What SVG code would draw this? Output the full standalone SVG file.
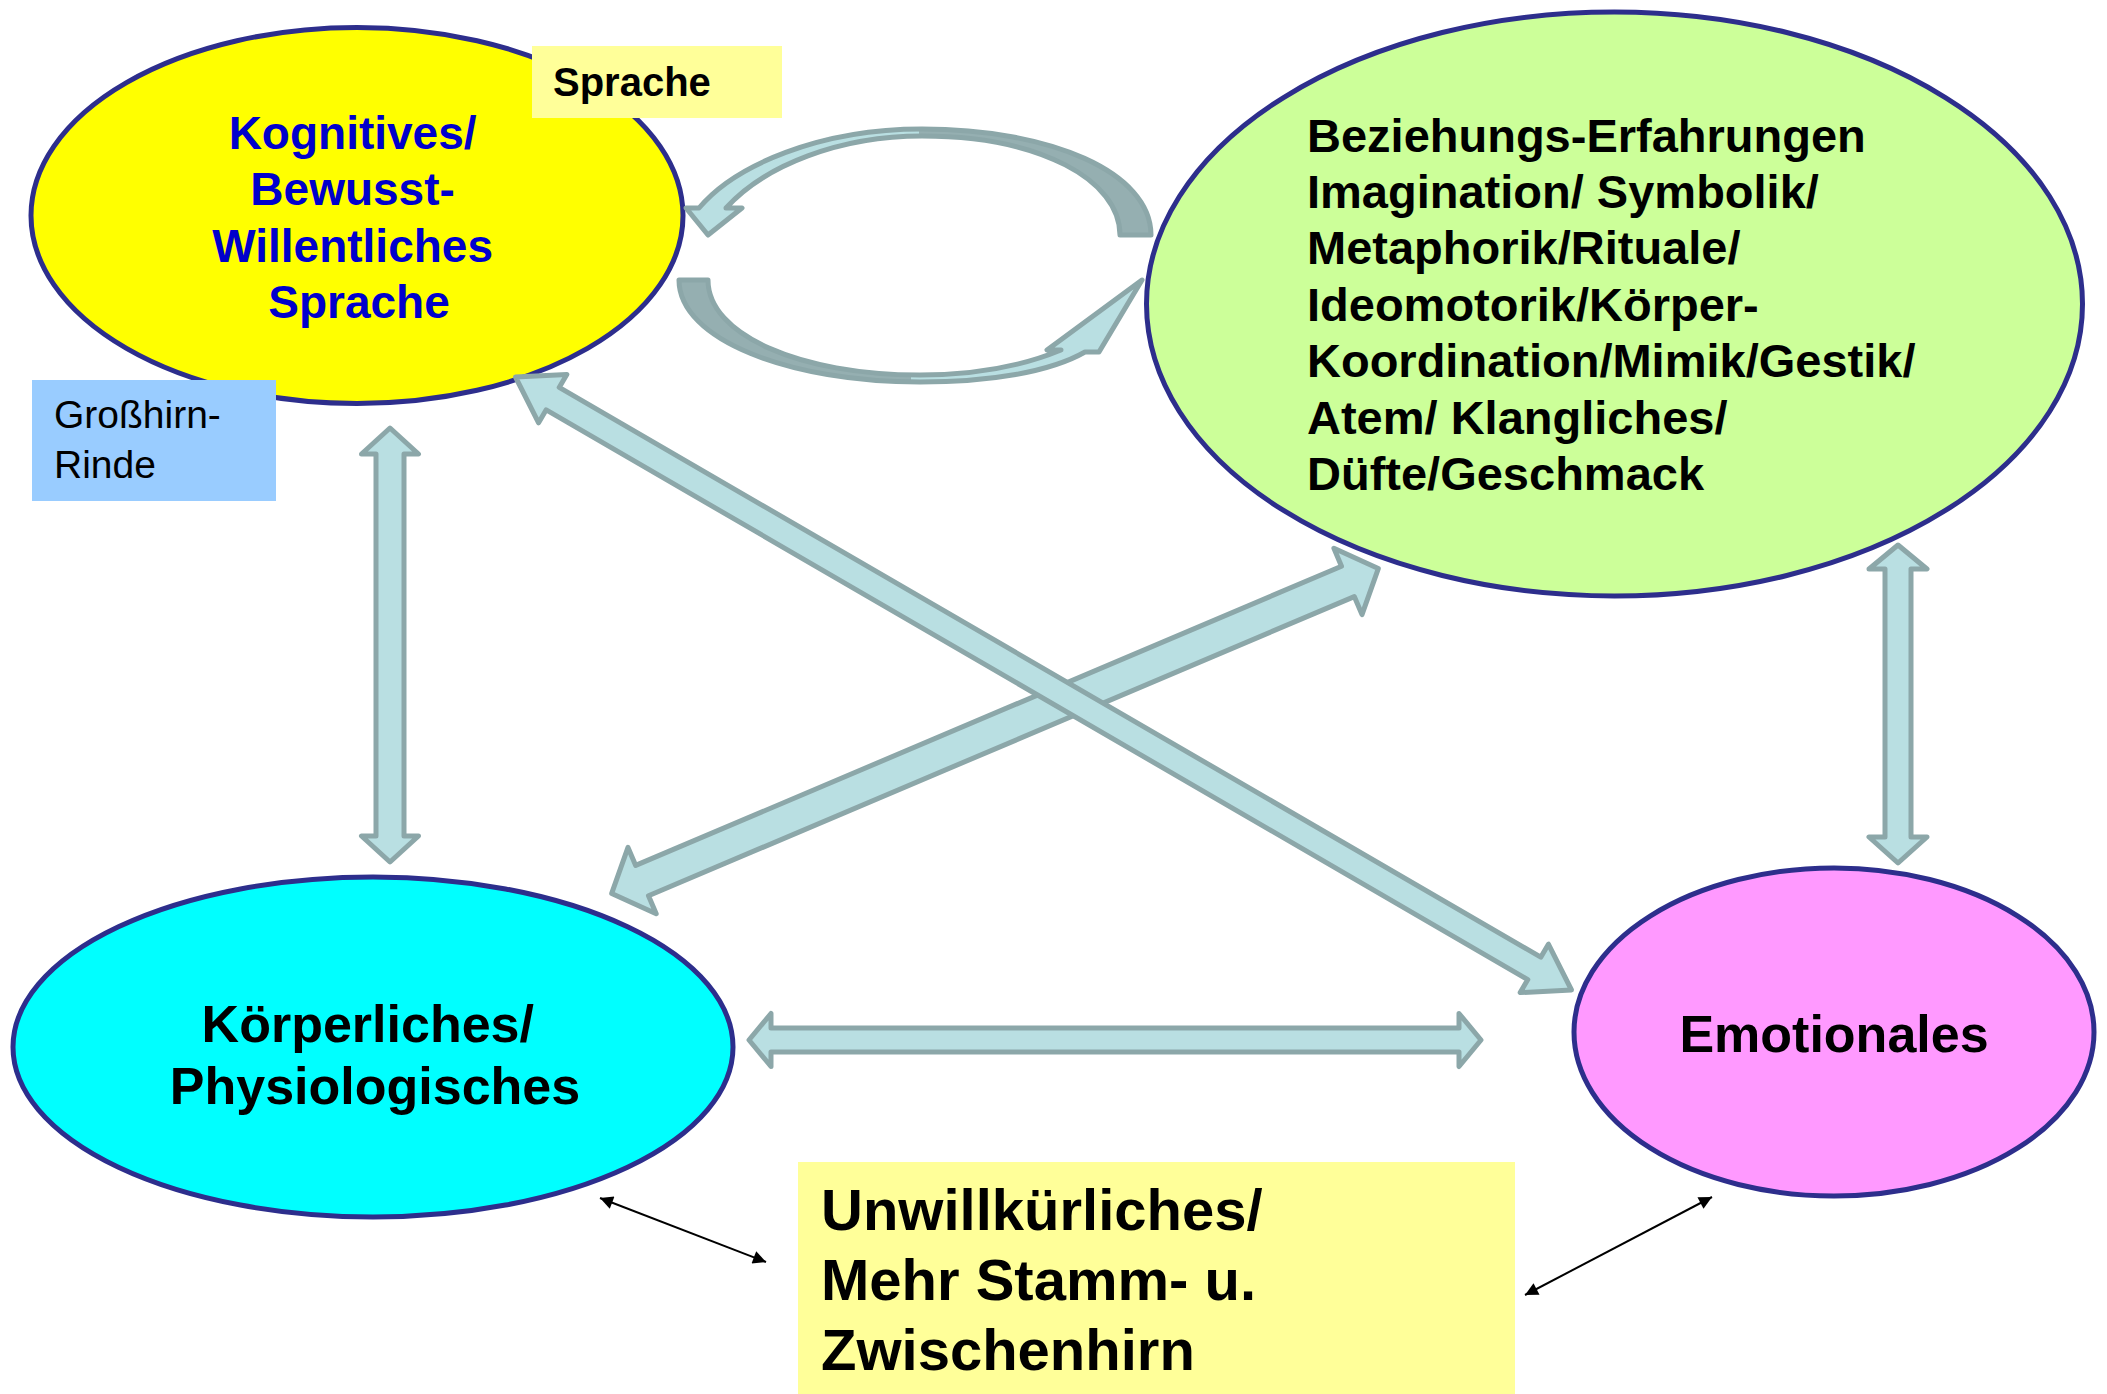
<svg xmlns="http://www.w3.org/2000/svg" width="2107" height="1394" viewBox="0 0 2107 1394">
<defs>
<style>
.node{stroke:#2D2E8C;stroke-width:5}
.t{font-family:"Liberation Sans",Arial,sans-serif;font-weight:bold;fill:#000}
.blk{fill:#B9DFE2;stroke:#8CA7A9;stroke-width:5;stroke-linejoin:round}
.thin{stroke:#000;stroke-width:2;fill:none;marker-start:url(#ah);marker-end:url(#ah)}
</style>
<marker id="ah" viewBox="0 0 10 10" refX="10" refY="5" markerWidth="9" markerHeight="6.5" orient="auto-start-reverse">
<path d="M0,0 L10,5 L0,10 z" fill="#000"/>
</marker>
<linearGradient id="gUp" gradientUnits="userSpaceOnUse" x1="686" y1="0" x2="1151" y2="0">
<stop offset="0" stop-color="#B9DFE2"/><stop offset="0.5" stop-color="#B9DFE2"/><stop offset="0.5" stop-color="#95AFB1"/><stop offset="1" stop-color="#95AFB1"/>
</linearGradient>
<linearGradient id="gLo" gradientUnits="userSpaceOnUse" x1="679" y1="0" x2="1142" y2="0">
<stop offset="0" stop-color="#95AFB1"/><stop offset="0.5" stop-color="#95AFB1"/><stop offset="0.5" stop-color="#B9DFE2"/><stop offset="1" stop-color="#B9DFE2"/>
</linearGradient>
</defs>
<rect width="2107" height="1394" fill="#fff"/>

<g id="node-kognitiv">
<ellipse class="node" cx="357" cy="215.5" rx="326" ry="188" fill="#FFFF00"/>
<text class="t" font-size="46" style="fill:#0000CC" text-anchor="middle">
<tspan x="359" y="149">Kognitives/</tspan>
<tspan x="359" y="205">Bewusst-</tspan>
<tspan x="359" y="262">Willentliches</tspan>
<tspan x="359" y="318">Sprache</tspan>
</text>
</g>

<g id="label-sprache">
<rect x="532" y="46" width="250" height="72" fill="#FFFF99"/>
<text class="t" font-size="40" x="553" y="96">Sprache</text>
</g>

<g id="label-grosshirn">
<rect x="32" y="380" width="244" height="121" fill="#99CCFF"/>
<text font-family="Liberation Sans, Arial, sans-serif" font-size="39" fill="#000">
<tspan x="54" y="428">Großhirn-</tspan>
<tspan x="54" y="478">Rinde</tspan>
</text>
</g>

<g id="node-beziehung">
<ellipse class="node" cx="1614.5" cy="304" rx="468" ry="292" fill="#CCFF99"/>
<text class="t" font-size="47">
<tspan x="1307" y="152">Beziehungs-Erfahrungen</tspan>
<tspan x="1307" y="208">Imagination/ Symbolik/</tspan>
<tspan x="1307" y="264">Metaphorik/Rituale/</tspan>
<tspan x="1307" y="321">Ideomotorik/Körper-</tspan>
<tspan x="1307" y="377">Koordination/Mimik/Gestik/</tspan>
<tspan x="1307" y="434">Atem/ Klangliches/</tspan>
<tspan x="1307" y="490">Düfte/Geschmack</tspan>
</text>
</g>

<g id="node-koerper">
<ellipse class="node" cx="373" cy="1047" rx="360" ry="170" fill="#00FFFF"/>
<text class="t" font-size="52" text-anchor="middle">
<tspan x="375" y="1042">Körperliches/</tspan>
<tspan x="375" y="1104">Physiologisches</tspan>
</text>
</g>

<g id="node-emotional">
<ellipse class="node" cx="1834" cy="1032" rx="260" ry="164" fill="#FF99FF"/>
<text class="t" font-size="52" text-anchor="middle" x="1834" y="1052">Emotionales</text>
</g>

<g id="node-unwillkuerlich">
<rect x="798" y="1162" width="717" height="232" fill="#FFFF99"/>
<text class="t" font-size="58">
<tspan x="821" y="1230">Unwillkürliches/</tspan>
<tspan x="821" y="1300">Mehr Stamm- u.</tspan>
<tspan x="821" y="1370">Zwischenhirn</tspan>
</text>
</g>

<g id="connectors">
<path id="c-curve-up" d="M1151,235 C1151,172 1050,129 922,129 C820,129 735,165 699,208 L686,208 L708,235 L742,208 L726,208 C765,165 840,136 922,136 C1040,136 1120,180 1120,235 Z" fill="url(#gUp)" stroke="#8CA7A9" stroke-width="5" stroke-linejoin="round"/>
<path id="c-curve-down" d="M679,280 C679,340 790,382 920,382 C990,382 1050,372 1085,352 L1099,352 L1142,280 L1047,350 L1061,350 C1020,367 970,375 920,375 C800,375 708,335 708,280 Z" fill="url(#gLo)" stroke="#8CA7A9" stroke-width="5" stroke-linejoin="round"/>
<polygon id="c-kog-koerper" class="blk" points="390,428 418.5,454 404,454 404,836 418.5,836 390,862 361.5,836 376,836 376,454 361.5,454"/>
<polygon id="c-bez-emo" class="blk" points="1898,545 1927,569 1911,569 1911,837 1927,837 1898,863 1869,837 1885,837 1885,569 1869,569"/>
<polygon id="c-koerper-emo" class="blk" points="749,1040 771,1013.5 771,1028 1459,1028 1459,1013.5 1481,1040 1459,1066.5 1459,1052 771,1052 771,1066.5"/>
<polygon id="c-koerper-bez" class="blk" points="611.7,893.4 628,847.4 635.7,865.4 1341.5,566.2 1333.9,548.3 1378.3,568.6 1362,614.6 1354.3,596.6 648.5,895.8 656.2,913.8"/>
<polygon id="c-kog-emo" class="blk" points="515.5,377 538.6,422.8 546.2,409.8 1527.8,979.6 1520.2,992.6 1571.5,990 1548.4,944.2 1540.8,957.2 559.2,387.4 566.8,374.4"/>
<line id="c-thin-left" class="thin" x1="600" y1="1198" x2="766" y2="1262"/>
<line id="c-thin-right" class="thin" x1="1525" y1="1295" x2="1712" y2="1197"/>
</g>
</svg>
